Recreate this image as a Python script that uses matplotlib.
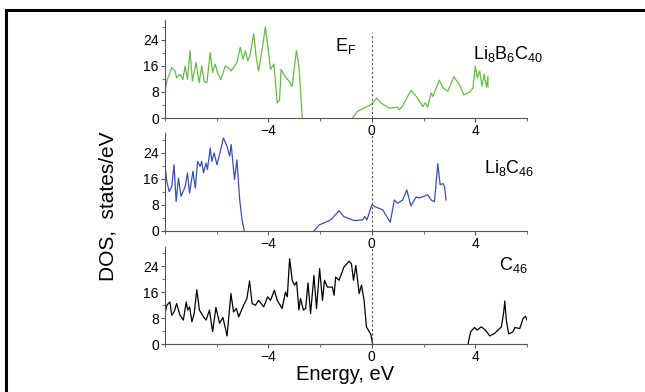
import matplotlib
matplotlib.use('Agg')
import matplotlib.pyplot as plt
from matplotlib.lines import Line2D
from matplotlib.ticker import MultipleLocator

plt.rcParams['font.family'] = ['Liberation Sans', 'DejaVu Sans']
plt.rcParams['mathtext.fontset'] = 'custom'
plt.rcParams['mathtext.rm'] = 'Liberation Sans'
plt.rcParams['mathtext.it'] = 'Liberation Sans'

# Li8B6C40 (green)
e_libc = [-8.0, -7.93, -7.74, -7.61, -7.55, -7.42, -7.31, -7.22, -7.13, -7.03, -6.94, -6.80,
          -6.68, -6.58, -6.49, -6.38, -6.25, -6.16, -6.06, -5.97, -5.84, -5.67, -5.54, -5.44,
          -5.35, -5.22, -5.09, -4.98, -4.89, -4.80, -4.70, -4.57, -4.47, -4.38, -4.24, -4.12,
          -4.01, -3.92, -3.79, -3.66, -3.57, -3.51, -3.41, -3.21, -3.08, -2.92, -2.82, -2.69]
d_libc = [8.2, 11.3, 15.4, 14.4, 12.3, 13.4, 11.8, 15.9, 11.8, 20.6, 11.3, 17.0,
          10.8, 15.9, 11.3, 10.8, 20.0, 13.9, 16.5, 13.9, 11.8, 15.9, 15.4, 14.4,
          15.4, 17.0, 21.6, 18.0, 20.6, 17.5, 19.6, 25.8, 18.5, 14.4, 21.1, 27.9,
          21.1, 14.9, 16.5, 4.6, 5.6, 14.9, 13.4, 11.3, 9.7, 20.6, 15.9, 0.0]
e_libc2 = [-0.75, -0.56, -0.30, 0.0, 0.19, 0.35, 0.67, 1.0, 1.06, 1.19, 1.51, 1.77, 1.97,
           2.06, 2.16, 2.29, 2.36, 2.61, 2.75, 2.94, 3.17, 3.39, 3.56, 3.78, 3.91, 4.0,
           4.08, 4.17, 4.26, 4.34, 4.43, 4.49, 4.49]
d_libc2 = [0.0, 2.0, 3.0, 4.3, 6.1, 4.6, 3.0, 3.3, 2.5, 3.7, 8.5, 6.1, 3.5,
           4.6, 3.3, 7.7, 6.6, 11.6, 9.2, 8.2, 12.6, 10.2, 7.1, 7.9, 9.2, 15.9,
           12.3, 14.4, 9.7, 13.4, 9.5, 12.8, 9.5]

# Li8C46 (blue)
e_lic = [-8.0, -7.93, -7.84, -7.74, -7.65, -7.57, -7.48, -7.38, -7.22, -7.13, -7.05, -6.92,
         -6.83, -6.74, -6.64, -6.58, -6.51, -6.41, -6.36, -6.25, -6.19, -6.10, -5.99, -5.89,
         -5.74, -5.60, -5.50, -5.44, -5.35, -5.31, -5.22, -5.11, -5.02, -4.93]
d_lic = [19.8, 15.2, 12.1, 13.6, 20.3, 9.0, 16.2, 10.6, 13.6, 17.8, 11.6, 18.3,
         13.1, 21.3, 19.8, 21.3, 17.8, 20.8, 18.8, 25.4, 21.3, 23.9, 20.3, 23.4,
         28.5, 25.9, 22.9, 26.5, 18.8, 15.7, 21.8, 9.5, 3.4, 0.0]
e_lic2 = [-2.24, -2.05, -1.59, -1.27, -1.08, -0.69, -0.36, -0.27, -0.19, 0.0, 0.16, 0.42,
          0.54, 0.71, 0.87, 1.0, 1.19, 1.35, 1.51, 1.71, 1.84, 2.16, 2.29, 2.42, 2.55,
          2.64, 2.75, 2.81, 2.87]
d_lic2 = [0.0, 1.8, 3.4, 6.2, 4.4, 3.2, 3.4, 4.4, 3.4, 8.0, 7.3, 6.5,
          4.9, 2.7, 9.5, 8.5, 9.5, 12.6, 7.7, 10.4, 10.1, 11.1, 9.5, 9.0, 20.6,
          14.2, 14.5, 13.6, 9.5]

# C46 (black)
e_c = [-8.0, -7.93, -7.81, -7.74, -7.65, -7.55, -7.42, -7.29, -7.18, -7.12, -7.05, -6.96,
       -6.87, -6.77, -6.67, -6.51, -6.41, -6.28, -6.16, -6.03, -5.89, -5.76, -5.60, -5.45,
       -5.35, -5.24, -5.15, -4.96, -4.83, -4.73, -4.63, -4.50, -4.38, -4.18, -4.03, -3.92,
       -3.77, -3.66, -3.47, -3.34, -3.27, -3.18, -3.08, -2.99, -2.91, -2.82, -2.76, -2.65,
       -2.56, -2.47, -2.37, -2.24, -2.14, -2.02, -1.91, -1.83, -1.72, -1.53, -1.46, -1.40,
       -1.27, -1.20, -1.08, -0.88, -0.79, -0.71, -0.62, -0.49, -0.40, -0.30, -0.21, -0.10,
       -0.04, 0.03]
d_c = [9.4, 12.0, 13.0, 8.9, 9.9, 12.5, 8.9, 7.4, 13.0, 10.5, 11.5, 6.9,
       9.4, 16.8, 10.5, 8.4, 7.4, 10.5, 3.8, 11.3, 6.4, 8.2, 2.5, 15.6,
       9.9, 11.0, 8.4, 12.0, 14.1, 19.5, 12.5, 12.0, 13.5, 11.5, 14.6, 13.5,
       16.6, 13.5, 11.0, 16.1, 14.6, 26.4, 19.7, 18.2, 19.2, 10.5, 14.1, 10.5,
       11.0, 18.9, 9.4, 21.2, 11.0, 23.3, 13.5, 19.7, 17.6, 17.6, 15.1, 20.7,
       19.7, 21.2, 23.8, 25.6, 24.8, 19.7, 24.3, 15.6, 18.2, 13.5, 5.3, 3.8,
       3.1, 0.0]
e_c2 = [3.72, 3.82, 3.97, 4.07, 4.23, 4.39, 4.56, 4.75, 5.01, 5.10, 5.14, 5.20, 5.29,
        5.46, 5.53, 5.72, 5.85, 5.94, 6.0]
d_c2 = [0.0, 3.8, 5.1, 4.3, 5.3, 4.3, 2.5, 3.3, 5.3, 9.9, 13.3, 7.4, 3.1,
        3.8, 5.1, 4.8, 7.9, 8.6, 7.4]

green = '#66bb44'
blue = '#3a4fb0'

fig = plt.figure(figsize=(6.45, 3.92), dpi=100)

W, H = 645, 392
left = 165 / W
width = (527 - 165) / W
panels = [(20, 118), (133, 231), (247, 344)]
axes = []
for top, bot in panels:
    ax = fig.add_axes([left, 1 - bot / H, width, (bot - top) / H])
    axes.append(ax)

data = [
    ([(e_libc, d_libc), (e_libc2, d_libc2)], green, r'$\mathregular{Li_8B_6C_{40}}$', 3.9, 19.5),
    ([(e_lic, d_lic), (e_lic2, d_lic2)], blue, r'$\mathregular{Li_8C_{46}}$', 4.35, 19.4),
    ([(e_c, d_c), (e_c2, d_c2)], 'black', r'$\mathregular{C_{46}}$', 4.9, 24.3),
]

for i, (ax, (segs, col, name, tx, ty)) in enumerate(zip(axes, data)):
    for e, d in segs:
        ax.plot(e, d, color=col, lw=0.9)
    ax.set_xlim(-8, 6)
    ax.set_ylim(0, 30)
    ax.spines['top'].set_visible(False)
    ax.spines['right'].set_visible(False)
    for s in ['left', 'bottom']:
        ax.spines[s].set_color('#555555')
        ax.spines[s].set_linewidth(0.8)
    ax.xaxis.set_minor_locator(MultipleLocator(2))
    ax.set_xticks([-4, 0, 4])
    ax.yaxis.set_major_locator(MultipleLocator(8))
    ax.yaxis.set_minor_locator(MultipleLocator(4))
    ax.tick_params(which='both', direction='out', color='#555555', labelsize=10, pad=1.5)
    ax.tick_params(which='major', length=3)
    ax.tick_params(which='minor', length=2)
    ax.set_facecolor('none')
    if i == 0:
        ax.plot([0, 0], [0, 26], ls=(0, (2, 2)), color='#555555', lw=0.8)
        ax.text(-1.0, 22, r'$\mathregular{E_F}$', fontsize=13, ha='center', va='center')
    else:
        ax.axvline(0, ls=(0, (2, 2)), color='#555555', lw=0.8)
    ax.text(tx, ty, name, fontsize=13, ha='left', va='center')

fig.text(108 / W, 1 - 206 / H, 'DOS,  states/eV', rotation=90, ha='center', va='center', fontsize=15)
fig.text(345 / W, 1 - 374 / H, 'Energy, eV', ha='center', va='center', fontsize=14.5)

# outer frame (top and left edges visible)
fig.add_artist(Line2D([6 / W, 644 / W], [1 - 10 / H, 1 - 10 / H], color='black', lw=2.2,
                      transform=fig.transFigure))
fig.add_artist(Line2D([6 / W, 6 / W], [0, 1 - 10 / H], color='black', lw=2.2,
                      transform=fig.transFigure))

fig.savefig('out.png', dpi=100)
